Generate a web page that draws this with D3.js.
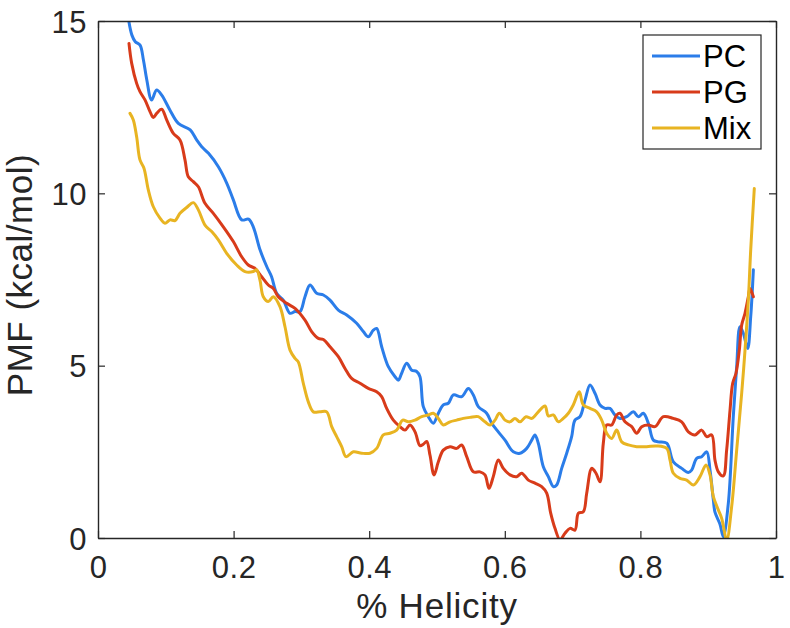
<!DOCTYPE html>
<html>
<head>
<meta charset="utf-8">
<script src="https://cdn.jsdelivr.net/npm/d3@7"></script>
<style>
  html, body { margin: 0; padding: 0; background: #fff; }
  svg { display: block; font-family: "Liberation Sans", Arial, Helvetica, sans-serif; }
</style>
</head>
<body>
<svg id="chart" width="790" height="628"></svg>
<script>
// ---------------- data ----------------
const seriesNames = ["PC", "PG", "Mix"];
const seriesColors = ["#2b7de9", "#d83b1a", "#e8b422"];
const xTicks = [0, 0.2, 0.4, 0.6, 0.8, 1];
const xTickLabels = ["0", "0.2", "0.4", "0.6", "0.8", "1"];
const yTicks = [0, 5, 10, 15];
const yTickLabels = ["0", "5", "10", "15"];

const pcH = [.045,.050,.055,.062,.067,.072,.079,.0865,.094,.106,.1185,.136,.1455,.153,.163,.1775,.190,.1996,.212,.222,.229,.239,.249,.256,.2635,.2733,.2832,.2906,.298,.3053,.3127,.3225,.3324,.3422,.3545,.3668,.3815,.3913,.3987,.4061,.411,.4184,.4282,.4381,.443,.4479,.4553,.4627,.470,.4749,.4798,.4872,.4946,.502,.5093,.5167,.5241,.5364,.5462,.5536,.5609,.5732,.5807,.5904,.6003,.6126,.6224,.6323,.6397,.6445,.6494,.6568,.6642,.6716,.6765,.6839,.6913,.6986,.7035,.7109,.7183,.7257,.733,.7404,.7478,.7552,.7625,.7699,.7798,.7896,.797,.8043,.8117,.8191,.8264,.8388,.8486,.8609,.8707,.8756,.883,.8904,.8978,.9027,.9076,.910,.9174,.9223,.9297,.937,.942,.9469,.9518,.9582,.9627,.9666];
const pcV = [15.05,14.59,14.40,14.30,13.87,13.29,12.71,13.00,12.85,12.42,12.03,11.84,11.55,11.35,11.16,10.77,10.29,9.81,9.23,9.25,9.03,8.36,7.87,7.58,7.10,6.90,6.52,6.57,6.57,7.00,7.34,7.10,7.05,6.90,6.61,6.47,6.23,5.99,5.84,6.03,6.08,5.55,4.97,4.68,4.58,4.78,5.07,4.87,4.83,4.68,3.81,3.52,3.33,3.62,3.86,3.91,4.15,4.10,4.34,4.15,3.81,3.62,3.33,3.08,2.84,2.50,2.46,2.60,2.84,2.99,2.75,2.07,1.78,1.49,1.54,2.02,2.46,2.94,3.42,3.52,4.00,4.44,4.20,3.86,3.76,3.76,3.57,3.47,3.52,3.66,3.52,3.62,3.33,2.84,2.79,2.75,2.21,2.02,1.90,1.97,2.31,2.36,2.50,1.97,1.10,0.75,0.40,0.04,1.01,3.52,4.97,6.13,5.94,5.50,6.42,7.78];

const pgH = [.0457,.0497,.057,.0619,.0693,.0767,.0816,.0865,.0939,.1013,.1111,.1209,.1283,.1332,.1406,.148,.1578,.1701,.1848,.1996,.2119,.2217,.2316,.2414,.2512,.2586,.2659,.2783,.2906,.3053,.3151,.325,.3324,.3422,.3545,.3643,.3741,.3864,.3987,.411,.4184,.4258,.4356,.4454,.4528,.4602,.4676,.4749,.4798,.4848,.4897,.4956,.502,.5093,.5192,.529,.5364,.5438,.5536,.5634,.5708,.5767,.583,.5904,.5978,.6077,.6175,.6249,.6347,.6445,.6544,.6618,.6677,.674,.6814,.6888,.6962,.7035,.7085,.7158,.7208,.7282,.7345,.7404,.7453,.7503,.7577,.765,.7699,.7773,.7872,.7945,.8019,.8117,.8215,.8338,.8486,.8609,.8707,.8805,.8904,.8978,.9052,.910,.915,.9223,.9272,.9322,.9361,.941,.9459,.9494,.9543,.9592,.9617,.9666];
const pgV = [14.35,13.77,13.19,12.95,12.71,12.37,12.20,12.32,12.44,12.13,11.74,11.55,10.97,10.48,10.34,10.19,9.71,9.42,9.03,8.60,8.16,7.92,7.82,7.58,7.34,7.24,7.00,6.81,6.66,6.32,5.99,5.79,5.76,5.55,5.26,4.92,4.63,4.49,4.34,4.24,4.10,3.76,3.42,3.23,3.13,3.28,3.08,2.68,2.72,2.80,2.40,1.83,2.21,2.55,2.65,2.60,2.70,2.36,1.92,1.92,1.83,1.44,1.78,2.26,2.02,1.83,1.78,1.88,1.68,1.59,1.49,1.30,0.72,0.28,-0.05,0.14,0.28,0.23,0.72,0.76,1.30,2.02,1.88,1.63,2.75,3.28,3.28,3.57,3.62,3.37,3.23,3.04,3.23,3.28,3.23,3.52,3.47,3.37,3.08,2.99,3.13,2.94,2.99,2.26,1.92,1.80,2.55,3.71,4.49,4.78,5.45,6.18,6.52,7.00,7.24,7.00];

const mixH = [.0472,.0521,.057,.0619,.0678,.0742,.0816,.0914,.0988,.1062,.1136,.1209,.1308,.1406,.148,.1578,.1677,.1775,.1898,.2045,.2168,.2291,.234,.2389,.2438,.2512,.2586,.2684,.2758,.2832,.2906,.2954,.3028,.3102,.3176,.3274,.3373,.3447,.352,.3594,.3658,.3766,.3889,.4012,.411,.4208,.4307,.4405,.4494,.4577,.4676,.4774,.4872,.4946,.502,.5093,.5192,.529,.5388,.5487,.5609,.5708,.5782,.5855,.5919,.6003,.6077,.615,.6224,.6313,.6397,.6494,.6593,.6642,.6716,.679,.6863,.6937,.701,.7099,.7158,.7257,.7355,.7429,.7503,.7577,.765,.7724,.7822,.7945,.8093,.824,.8388,.8437,.8486,.8584,.8682,.8781,.8879,.8968,.9027,.9076,.915,.9199,.9273,.9346,.942,.9494,.9543,.9592,.9627,.968];
const mixV = [12.32,12.13,11.64,10.97,10.73,10.10,9.61,9.28,9.13,9.23,9.21,9.42,9.59,9.73,9.52,9.08,8.89,8.65,8.26,7.92,7.73,7.73,7.78,7.48,7.00,6.86,7.00,6.71,6.13,5.45,5.21,5.11,4.49,3.95,3.66,3.66,3.66,3.23,2.94,2.65,2.36,2.50,2.46,2.46,2.60,2.99,3.04,3.13,3.42,3.37,3.42,3.52,3.57,3.62,3.47,3.28,3.37,3.42,3.47,3.50,3.52,3.37,3.28,3.42,3.62,3.42,3.37,3.47,3.37,3.52,3.47,3.66,3.83,3.54,3.57,3.37,3.47,3.62,3.86,4.24,3.86,3.76,3.66,3.42,3.04,2.89,3.13,2.79,2.70,2.65,2.65,2.67,2.60,2.26,1.88,1.73,1.68,1.54,1.78,2.12,1.83,1.20,0.81,0.57,-0.05,0.91,2.55,4.20,5.45,6.90,8.36,10.14];

const seriesH = [pcH, pgH, mixH];
const seriesV = [pcV, pgV, mixV];

// ---------------- layout ----------------
const svg = d3.select("#chart");
const L = 98, R = 776, T = 21, B = 538;
const axisColor = "#262626";
const tickLen = 7;

const x = d3.scaleLinear().domain([0, 1]).range([L, R]);
const y = d3.scaleLinear().domain([0, 15]).range([B, T]);

svg.append("defs").append("clipPath").attr("id", "plotclip")
  .append("rect").attr("x", L).attr("y", T).attr("width", R - L).attr("height", B - T);

// lines
const line = d3.line()
  .x(d => x(d[0])).y(d => y(d[1]))
  .curve(d3.curveCatmullRom.alpha(0.5));

const gLines = svg.append("g").attr("clip-path", "url(#plotclip)");
seriesNames.forEach((name, i) => {
  const pts = seriesH[i].map((h, j) => [h, seriesV[i][j]]);
  gLines.append("path")
    .datum(pts)
    .attr("d", line)
    .attr("fill", "none")
    .attr("stroke", seriesColors[i])
    .attr("stroke-width", 3)
    .attr("stroke-linejoin", "round")
    .attr("stroke-linecap", "round");
});

// axes (MATLAB-style box, inward ticks)
const xAxisB = d3.axisBottom(x).tickValues(xTicks).tickFormat((d, i) => xTickLabels[i]).tickSizeInner(-tickLen).tickSizeOuter(0).tickPadding(0);
const xAxisT = d3.axisTop(x).tickValues(xTicks).tickFormat("").tickSizeInner(-tickLen).tickSizeOuter(0);
const yAxisL = d3.axisLeft(y).tickValues(yTicks).tickFormat((d, i) => yTickLabels[i]).tickSizeInner(-tickLen).tickSizeOuter(0).tickPadding(0);
const yAxisR = d3.axisRight(y).tickValues(yTicks).tickFormat("").tickSizeInner(-tickLen).tickSizeOuter(0);

function styleAxis(g) {
  g.select(".domain").attr("stroke", axisColor).attr("stroke-width", 1.4);
  g.selectAll(".tick line").attr("stroke", axisColor).attr("stroke-width", 1.2);
  g.selectAll(".tick text").attr("fill", axisColor).attr("font-size", 31)
    .attr("letter-spacing", "0.5px")
    .attr("font-family", "Liberation Sans, Arial, sans-serif");
}

const gxB = svg.append("g").attr("transform", `translate(0,${B})`).call(xAxisB).call(styleAxis);
gxB.selectAll(".tick text").attr("y", 40).attr("dy", 0);
const gxT = svg.append("g").attr("transform", `translate(0,${T})`).call(xAxisT).call(styleAxis);
const gyL = svg.append("g").attr("transform", `translate(${L},0)`).call(yAxisL).call(styleAxis);
gyL.selectAll(".tick text").attr("x", -11).attr("dy", "0.36em");
const gyR = svg.append("g").attr("transform", `translate(${R},0)`).call(yAxisR).call(styleAxis);

// axis labels
svg.append("text")
  .attr("x", (L + R) / 2).attr("y", 618)
  .attr("text-anchor", "middle")
  .attr("font-size", 35).attr("letter-spacing", "0.8px").attr("fill", axisColor)
  .text("% Helicity");

svg.append("text")
  .attr("transform", `translate(32,275) rotate(-90)`)
  .attr("text-anchor", "middle")
  .attr("font-size", 35).attr("letter-spacing", "0.5px").attr("fill", axisColor)
  .text("PMF (kcal/mol)");

// legend
const lg = svg.append("g");
lg.append("rect").attr("x", 643).attr("y", 35).attr("width", 118).attr("height", 114)
  .attr("fill", "#fff").attr("stroke", axisColor).attr("stroke-width", 1.2);
seriesNames.forEach((name, i) => {
  const ly = 56 + i * 36;
  lg.append("line").attr("x1", 652).attr("x2", 700).attr("y1", ly).attr("y2", ly)
    .attr("stroke", seriesColors[i]).attr("stroke-width", 3);
  lg.append("text").attr("x", 703).attr("y", ly + 10.7)
    .attr("font-size", 31).attr("fill", "#000").text(name);
});
</script>
</body>
</html>
